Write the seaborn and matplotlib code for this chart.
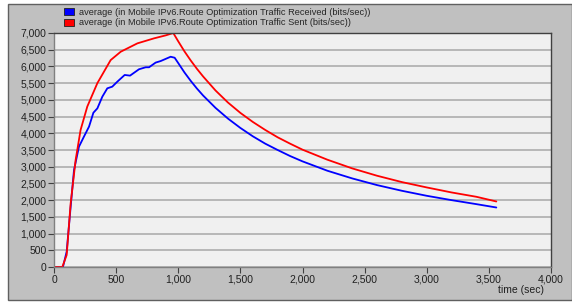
import numpy as np
import pandas as pd
import matplotlib
matplotlib.use("Agg")
import matplotlib.pyplot as plt
from matplotlib.patches import Patch, Rectangle
from matplotlib.ticker import FuncFormatter
import seaborn as sns

# 读图估计的数据点 (time sec, bits/sec)
sent_t = [0, 67, 102, 134, 174, 214, 268, 349, 456, 537, 671, 805, 900, 960,
          1000, 1050, 1100, 1150, 1200, 1300, 1400, 1500, 1600, 1700, 1800, 1900, 2000,
          2200, 2400, 2600, 2800, 3000, 3200, 3400, 3560]
sent_v = [0, 0, 360, 1900, 3200, 4100, 4800, 5500, 6190, 6440, 6690, 6840, 6930, 7000,
          6750, 6450, 6180, 5930, 5700, 5280, 4920, 4610, 4340, 4100, 3880, 3690, 3510,
          3210, 2950, 2730, 2540, 2380, 2230, 2100, 1960]

recv_t = [0, 72, 102, 134, 161, 201, 241, 282, 317, 349, 389, 429, 469, 510,
          569, 612, 684, 738, 765, 818, 858, 939, 971,
          1000, 1050, 1100, 1150, 1200, 1300, 1400, 1500, 1600, 1700, 1800, 1900, 2000,
          2200, 2400, 2600, 2800, 3000, 3200, 3400, 3560]
recv_v = [0, 0, 460, 1800, 2900, 3600, 3900, 4200, 4615, 4745, 5095, 5345, 5395, 5545,
          5745, 5725, 5915, 5975, 5975, 6115, 6160, 6290, 6260,
          6100, 5820, 5570, 5340, 5130, 4760, 4440, 4160, 3910, 3690, 3500, 3320, 3160,
          2880, 2650, 2450, 2280, 2130, 2000, 1880, 1780]

labels = ["average (in Mobile IPv6.Route Optimization Traffic Received (bits/sec))",
          "average (in Mobile IPv6.Route Optimization Traffic Sent (bits/sec))"]
colors = ["#0000ff", "#ff0000"]

sns.set_style("white")
plt.rcParams["font.family"] = ["Liberation Sans", "DejaVu Sans"]

fig = plt.figure(figsize=(5.72, 3.04), dpi=100, facecolor="white")
# 灰色面板
panel = Rectangle((8 / 572, 4 / 304), 564 / 572, 296 / 304,
                  transform=fig.transFigure, facecolor="#c0c0c0",
                  edgecolor="#606060", linewidth=1.0, zorder=-10)
fig.add_artist(panel)

ax = fig.add_axes([54 / 572, 37 / 304, 497 / 572, 234 / 304])
ax.set_facecolor("#f0f0f0")

sns.lineplot(x=recv_t, y=recv_v, color=colors[0], linewidth=1.3, ax=ax)
sns.lineplot(x=sent_t, y=sent_v, color=colors[1], linewidth=1.3, ax=ax)

ax.set_xlim(0, 4000)
ax.set_ylim(0, 7000)
ax.set_xticks(np.arange(0, 4001, 500))
ax.set_yticks(np.arange(0, 7001, 500))
fmt = FuncFormatter(lambda v, p: f"{int(v):,}")
ax.xaxis.set_major_formatter(fmt)
ax.yaxis.set_major_formatter(fmt)
ax.yaxis.grid(True, color="#a8a8a8", linewidth=1.1)
ax.xaxis.grid(False)
ax.tick_params(axis="both", direction="out", length=4, width=0.8, color="#404040",
               labelsize=7.5, labelcolor="#202020", pad=1.5)
ax.tick_params(left=True, bottom=True)
for s in ["top", "right"]:
    ax.spines[s].set_color("#404040")
for s in ["left", "bottom"]:
    ax.spines[s].set_color("#808080")
for s in ax.spines.values():
    s.set_linewidth(1.0)

ax.set_xlabel("time (sec)", fontsize=7.5, color="#202020")
ax.xaxis.set_label_coords(0.985, -0.075)
ax.xaxis.label.set_horizontalalignment("right")
ax.set_ylabel("")

handles = [Patch(facecolor=c, edgecolor="#202020", linewidth=0.6) for c in colors]
fig.legend(handles, labels, loc="upper left", bbox_to_anchor=(64 / 572, 1 - 8 / 304),
           frameon=False, fontsize=6.7, handlelength=1.1, handleheight=0.8,
           handletextpad=0.5, labelspacing=0.15, borderpad=0, borderaxespad=0)

fig.savefig("out.png", dpi=100, facecolor="white")
